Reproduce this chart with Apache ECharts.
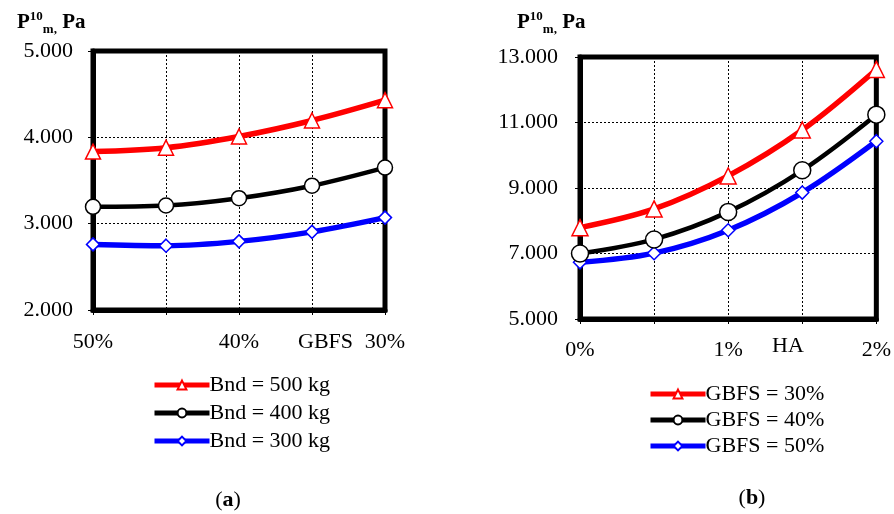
<!DOCTYPE html>
<html><head><meta charset="utf-8">
<script src="https://cdn.jsdelivr.net/npm/echarts@6/dist/echarts.min.js"></script>
<style>html,body{margin:0;padding:0;background:#fff}#c{width:894px;height:514px}</style>
</head><body><div id="c"></div>
<script>
const catsA = ['50%', '', '40%', '', '30%'];
const catsB = ['0%', '', '1%', '', '2%'];
const namesA = ['Bnd = 500 kg', 'Bnd = 400 kg', 'Bnd = 300 kg'];
const namesB = ['GBFS = 30%', 'GBFS = 40%', 'GBFS = 50%'];
const a500 = [3835, 3880, 4010, 4195, 4430];
const a400 = [3195, 3210, 3295, 3440, 3650];
const a300 = [2760, 2745, 2795, 2905, 3070];
const b30 = [7790, 8360, 9370, 10770, 12620];
const b40 = [7000, 7430, 8270, 9540, 11240];
const b50 = [6730, 7010, 7710, 8860, 10430];
const yTicksA = {min: 2000, max: 5000, interval: 1000};
const yTicksB = {min: 5000, max: 13000, interval: 2000};

const FONT = 'Liberation Serif';
const colors = ['#ff0000', '#000000', '#0000ff'];
const symbols = ['triangle', 'circle', 'diamond'];

function mkSeries(name, data, i, axisIdx, big) {
  const sizes = big ? [16, 17, 13] : [15, 15, 13];
  const widths = [5.5, 4.5, 5.5];
  return {
    name, type: 'line', data, xAxisIndex: axisIdx, yAxisIndex: axisIdx,
    smooth: 0.35, symbol: symbols[i], symbolSize: sizes[i],
    showAllSymbol: true, z: 10 - i,
    lineStyle: {color: colors[i], width: widths[i]},
    itemStyle: {color: '#fff', borderColor: colors[i], borderWidth: 1.5},
    emphasis: {disabled: true}
  };
}

function xAx(cats, gi, margin) {
  return {
    type: 'category', gridIndex: gi, data: cats, boundaryGap: false,
    axisLine: {lineStyle: {color: '#000', width: 5}},
    axisTick: {show: true, length: 5, lineStyle: {color: '#000', width: 1}, alignWithLabel: true, interval: 0},
    axisLabel: {interval: 0, margin, color: '#000', fontFamily: FONT, fontSize: 22},
    splitLine: {show: true, interval: 0, lineStyle: {color: '#000', type: [2, 2], width: 1}}
  };
}
function yAx(t, gi, margin) {
  return {
    type: 'value', gridIndex: gi, min: t.min, max: t.max, interval: t.interval,
    axisLine: {show: true, lineStyle: {color: '#000', width: 5}},
    axisTick: {show: true, length: 5, lineStyle: {color: '#000', width: 1}},
    axisLabel: {margin, color: '#000', fontFamily: FONT, fontSize: 22,
      formatter: v => (v / 1000).toFixed(3)},
    splitLine: {show: true, lineStyle: {color: '#000', type: [2, 2], width: 1}}
  };
}
const rich = {
  b: {fontFamily: FONT, fontWeight: 'bold', fontSize: 21, color: '#000', lineHeight: 26, verticalAlign: 'middle'},
  sup: {fontFamily: FONT, fontWeight: 'bold', fontSize: 13, color: '#000', lineHeight: 26, verticalAlign: 'top'},
  sub: {fontFamily: FONT, fontWeight: 'bold', fontSize: 13, color: '#000', lineHeight: 26, verticalAlign: 'bottom'}
};
const titleText = '{b|P}{sup|10}{sub|m,}{b| Pa}';

const chart = echarts.init(document.getElementById('c'), null, {renderer: 'canvas'});
const legendText = {fontFamily: FONT, fontSize: 22, color: '#000', padding: [0, 0, 0, -5]};
chart.setOption({
  backgroundColor: '#fff',
  animation: false,
  title: [
    {text: titleText, left: 12, top: 5, textStyle: {rich}},
    {text: titleText, left: 512, top: 5, textStyle: {rich}},
    {text: '({b|a})', left: 223, top: 484, textAlign: 'center',
      textStyle: {fontFamily: FONT, fontSize: 22, fontWeight: 'normal', color: '#000',
        rich: {b: {fontFamily: FONT, fontSize: 22, fontWeight: 'bold', color: '#000'}}}},
    {text: '({b|b})', left: 747, top: 482, textAlign: 'center',
      textStyle: {fontFamily: FONT, fontSize: 22, fontWeight: 'normal', color: '#000',
        rich: {b: {fontFamily: FONT, fontSize: 22, fontWeight: 'bold', color: '#000'}}}}
  ],
  grid: [
    {left: 93, top: 51, width: 292, height: 259, show: true, borderColor: '#000', borderWidth: 5, backgroundColor: 'transparent'},
    {left: 580, top: 57, width: 297, height: 262, show: true, borderColor: '#000', borderWidth: 5, backgroundColor: 'transparent'}
  ],
  xAxis: [xAx(catsA, 0, 21), xAx(catsB, 1, 20)],
  yAxis: [yAx(yTicksA, 0, 20), yAx(yTicksB, 1, 22)],
  legend: [
    {data: namesA, orient: 'vertical', left: 147, top: 369, itemWidth: 55, itemHeight: 11, itemGap: 6,
      lineStyle: {width: 5}, textStyle: legendText, selectedMode: false},
    {data: namesB, orient: 'vertical', left: 643, top: 378, itemWidth: 55, itemHeight: 11, itemGap: 4,
      lineStyle: {width: 5}, textStyle: legendText, selectedMode: false}
  ],
  graphic: [
    {type: 'text', left: 298, top: 331, style: {text: 'GBFS', font: '22px "Liberation Serif"', fill: '#000'}},
    {type: 'text', left: 772, top: 335, style: {text: 'HA', font: '22px "Liberation Serif"', fill: '#000'}}
  ],
  series: [
    mkSeries(namesA[0], a500, 0, 0, false),
    mkSeries(namesA[1], a400, 1, 0, false),
    mkSeries(namesA[2], a300, 2, 0, false),
    mkSeries(namesB[0], b30, 0, 1, true),
    mkSeries(namesB[1], b40, 1, 1, true),
    mkSeries(namesB[2], b50, 2, 1, true)
  ]
});
</script></body></html>
